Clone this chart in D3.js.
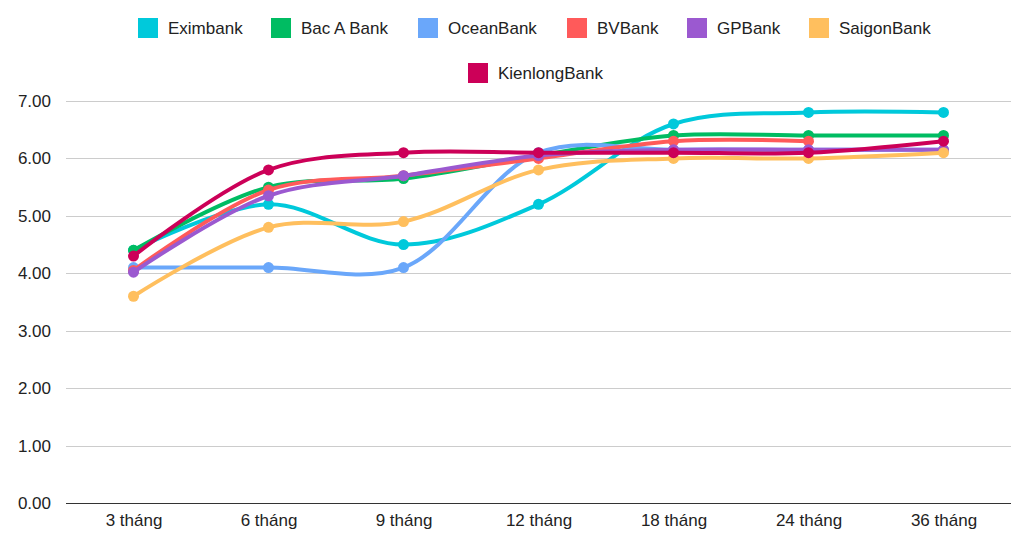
<!DOCTYPE html>
<html><head><meta charset="utf-8">
<script src="https://cdn.jsdelivr.net/npm/d3@7"></script>
<style>body{margin:0;background:#fff;font-family:"Liberation Sans",Arial,sans-serif;}</style>
</head><body><svg id="c" width="1024" height="540"></svg>
<script>
const categories = ["3 tháng","6 tháng","9 tháng","12 tháng","18 tháng","24 tháng","36 tháng"];
const seriesNames = ["Eximbank","Bac A Bank","OceanBank","BVBank","GPBank","SaigonBank","KienlongBank"];
const colors = ["#00C9DB","#00BC62","#6AA7FA","#FF5A5A","#9B59D0","#FFBF5E","#CC0058"];
const eximbank = [4.4,5.2,4.5,5.2,6.6,6.8,6.8];
const bacABank = [4.4,5.5,5.65,6.05,6.4,6.4,6.4];
const oceanBank = [4.1,4.1,4.1,6.1,6.15,6.15,6.15];
const bvBank = [4.05,5.45,5.7,6.0,6.3,6.3,null];
const gpBank = [4.02,5.35,5.7,6.05,6.15,6.15,6.15];
const saigonBank = [3.6,4.8,4.9,5.8,6.0,6.0,6.1];
const kienlongBank = [4.3,5.8,6.1,6.1,6.1,6.1,6.3];
const yTicks = [0,1,2,3,4,5,6,7];
const allSeries = [eximbank,bacABank,oceanBank,bvBank,gpBank,saigonBank,kienlongBank];

const svg = d3.select("#c");
const x = d3.scalePoint().domain(categories).range([133.5,943.5]);
const y = d3.scaleLinear().domain([0,7]).range([503,101]);

svg.append("g").selectAll("line").data(yTicks).join("line")
  .attr("x1",66).attr("x2",1011)
  .attr("y1",d=>Math.round(y(d))+0.5).attr("y2",d=>Math.round(y(d))+0.5)
  .attr("stroke",d=>d===0?"#333":"#ccc").attr("stroke-width",1);

const yAxis = d3.axisLeft(y).tickValues(yTicks).tickFormat(d3.format(".2f")).tickSize(0).tickPadding(0);
const gy = svg.append("g").attr("transform","translate(51,0)").call(yAxis);
gy.select(".domain").remove();
gy.selectAll("text").attr("font-size",17).attr("fill","#222").attr("font-family","Liberation Sans, Arial, sans-serif");

const xAxis = d3.axisBottom(x).tickSize(0).tickPadding(0);
const gx = svg.append("g").attr("transform","translate(0,514)").call(xAxis);
gx.select(".domain").remove();
gx.selectAll("text").attr("font-size",17).attr("fill","#222").attr("font-family","Liberation Sans, Arial, sans-serif");

const line = d3.line().defined(d=>d.v!=null).x(d=>x(d.c)).y(d=>y(d.v)).curve(d3.curveCatmullRom.alpha(0.5));

allSeries.forEach((s,i)=>{
  const pts = categories.map((c,j)=>({c,v:s[j]}));
  const g = svg.append("g");
  g.append("path").datum(pts).attr("d",line).attr("fill","none")
    .attr("stroke",colors[i]).attr("stroke-width",4).attr("stroke-linejoin","round");
  g.selectAll("circle").data(pts.filter(d=>d.v!=null)).join("circle")
    .attr("cx",d=>x(d.c)).attr("cy",d=>y(d.v)).attr("r",5.5).attr("fill",colors[i]);
});

const legendPos = [[138,28],[271,28],[418,28],[567,28],[687,28],[809,28],[468,73]];
seriesNames.forEach((n,i)=>{
  const [lx,ly] = legendPos[i];
  const g = svg.append("g");
  g.append("rect").attr("x",lx).attr("y",ly-10).attr("width",20).attr("height",20).attr("fill",colors[i]);
  g.append("text").attr("x",lx+30).attr("y",ly).attr("dy","0.35em").attr("font-size",17).attr("fill","#222").text(n);
});
</script></body></html>
